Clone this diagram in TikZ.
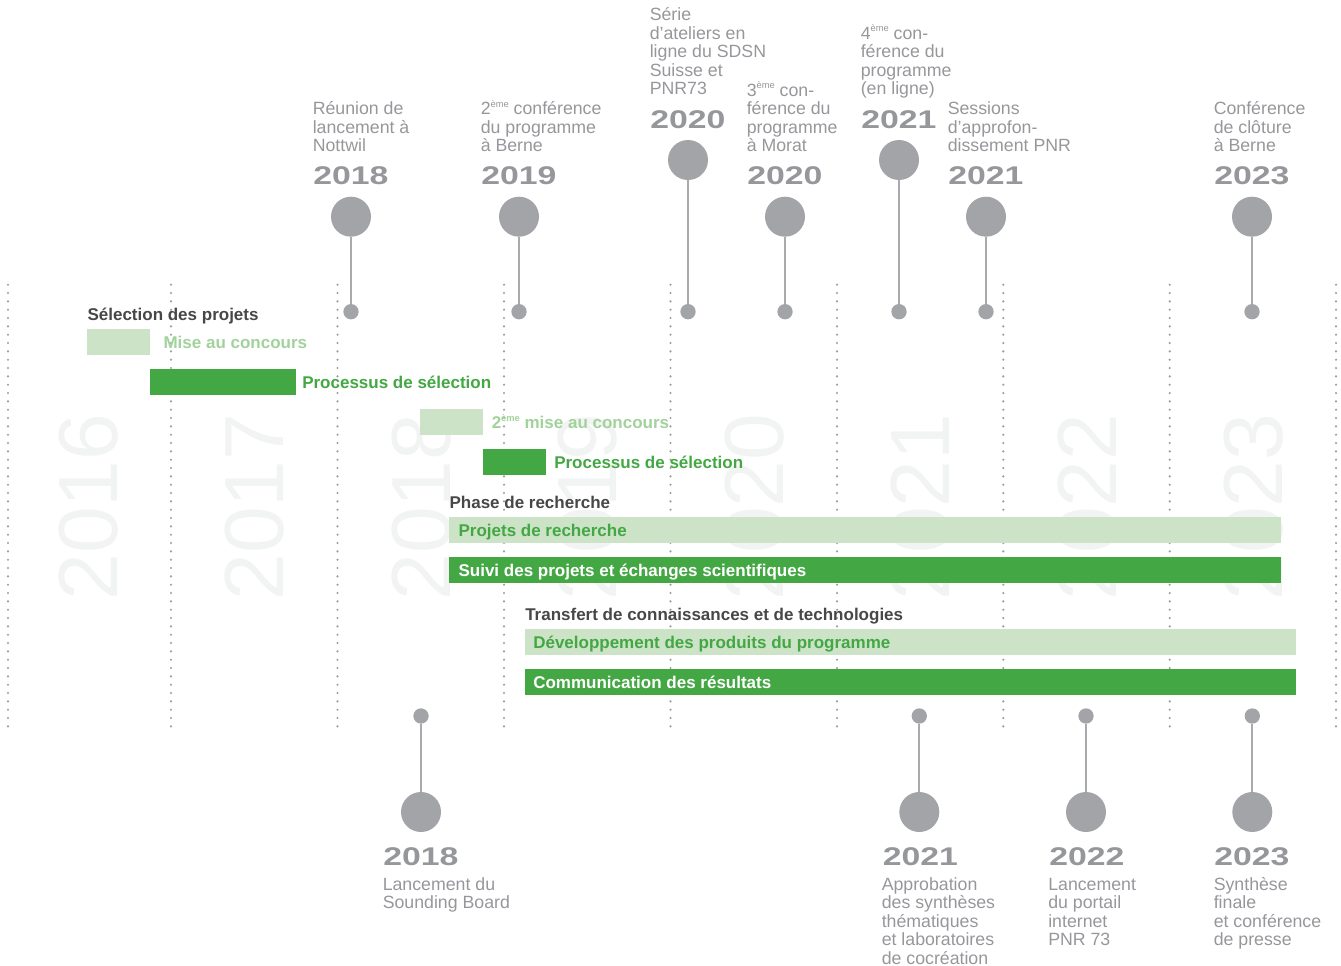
\documentclass[tikz,border=0pt]{standalone}
\usepackage{fontspec}
\setmainfont{Liberation Sans}
\usepackage{graphicx}
\definecolor{dgreen}{HTML}{43A843}
\definecolor{lgreen}{HTML}{CDE3C8}
\definecolor{ltext}{HTML}{A2D29B}
\definecolor{gcirc}{HTML}{A3A4A7}
\definecolor{gstem}{HTML}{A9AAAD}
\definecolor{gtext}{HTML}{96979B}
\definecolor{hdr}{HTML}{474747}
\definecolor{faint}{HTML}{F2F3F3}
\definecolor{dotc}{HTML}{9C9DA0}
\newcommand{\yr}[1]{\scalebox{1.32}[1]{#1}}
\newcommand{\evup}[1]{\parbox[b]{170pt}{\raggedright #1}}
\newcommand{\evdown}[1]{\parbox[t]{170pt}{\raggedright #1}}
\newcommand{\eme}{\raisebox{0.42em}{\fontsize{7}{7}\selectfont ème}}
\tikzset{
 faintyr/.style={text=faint, rotate=90, anchor=base, inner sep=0pt, font=\fontsize{63}{63}\selectfont},
 gridline/.style={draw=dotc, line width=1.8pt, line cap=round, dash pattern=on 0pt off 6.25pt},
 lbar/.style={fill=lgreen},
 dbar/.style={fill=dgreen},
 blabel/.style={anchor=base west, inner sep=0pt, font=\bfseries\fontsize{12.75}{14}\selectfont},
 hdrlabel/.style={blabel, text=hdr},
 bigdot/.style={circle, fill=gcirc, minimum size=30pt, inner sep=0pt},
 smalldot/.style={circle, fill=gcirc, minimum size=11.5pt, inner sep=0pt},
 stem/.style={draw=gstem, line width=1.5pt},
 evyear/.style={anchor=base west, inner sep=0pt, text=gtext, font=\bfseries\fontsize{19.2}{20}\selectfont},
 evtext/.style={anchor=base west, inner sep=0pt, text=gtext, font=\fontsize{13.3}{13.9}\selectfont},
}
\begin{document}
\begin{tikzpicture}[x=0.75pt,y=-0.75pt]
\useasboundingbox (0,0) rectangle (1341,966);
% faint background years
\node[faintyr] (f16) at (117,507) {2016};
\node[faintyr] (f17) at (283.5,507) {2017};
\node[faintyr] (f18) at (450,507) {2018};
\node[faintyr] (f19) at (616.5,507) {2019};
\node[faintyr] (f20) at (783,507) {2020};
\node[faintyr] (f21) at (949.5,507) {2021};
\node[faintyr] (f22) at (1116,507) {2022};
\node[faintyr] (f23) at (1282.5,507) {2023};
% dotted grid lines
\foreach \gx in {8,171,337.5,504,670.5,837,1003.3,1169.7,1336}
  \draw[gridline] (\gx,284.7) -- (\gx,731);
% bars
\fill[lbar] (87,329) rectangle (150,355);
\fill[dbar] (150,369) rectangle (296,395);
\fill[lbar] (420,409) rectangle (483,435);
\fill[dbar] (483,449) rectangle (546,475);
\fill[lbar] (449,517) rectangle (1281,543);
\fill[dbar] (449,557) rectangle (1281,583);
\fill[lbar] (525,629) rectangle (1296,655);
\fill[dbar] (525,669) rectangle (1296,695);
% labels
\node[hdrlabel] (h1) at (87.3,320) {Sélection des projets};
\node[blabel, text=ltext] (l1) at (163.3,348.3) {Mise au concours};
\node[blabel, text=dgreen] (l2) at (302,388.3) {Processus de sélection};
\node[blabel, text=ltext] (l3) at (491.5,428.3) {2\eme{} mise au concours};
\node[blabel, text=dgreen] (l4) at (554,468.3) {Processus de sélection};
\node[hdrlabel] (h2) at (449.3,508.3) {Phase de recherche};
\node[blabel, text=dgreen] (l5) at (458.3,536.3) {Projets de recherche};
\node[blabel, text=white] (l6) at (458.3,576.3) {Suivi des projets et échanges scientifiques};
\node[hdrlabel] (h3) at (525,620.3) {Transfert de connaissances et de technologies};
\node[blabel, text=dgreen] (l7) at (533,648.3) {Développement des produits du programme};
\node[blabel, text=white] (l8) at (533,688.3) {Communication des résultats};
% top events
\node[bigdot] (t1) at (351,216.7) {};
\node[smalldot] (t1d) at (351,311.7) {};
\draw[stem] (t1) -- (t1d);
\node[evyear] (t1y) at (313,185) {\yr{2018}};
\node[evtext] (t1t) at (312.5,151.7) {\evup{Réunion de\\lancement à\\Nottwil}};

\node[bigdot] (t2) at (519,216.7) {};
\node[smalldot] (t2d) at (519,311.7) {};
\draw[stem] (t2) -- (t2d);
\node[evyear] (t2y) at (481,185) {\yr{2019}};
\node[evtext] (t2t) at (480.5,151.7) {\evup{2\eme{} conférence\\du programme\\à Berne}};

\node[bigdot] (t3) at (688,160) {};
\node[smalldot] (t3d) at (688,311.7) {};
\draw[stem] (t3) -- (t3d);
\node[evyear] (t3y) at (650,128.3) {\yr{2020}};
\node[evtext] (t3t) at (649.5,95) {\evup{Série\\d’ateliers en\\ligne du SDSN\\Suisse et\\PNR73}};

\node[bigdot] (t4) at (785,216.7) {};
\node[smalldot] (t4d) at (785,311.7) {};
\draw[stem] (t4) -- (t4d);
\node[evyear] (t4y) at (747,185) {\yr{2020}};
\node[evtext] (t4t) at (746.5,151.7) {\evup{3\eme{} con-\\férence du\\programme\\à Morat}};

\node[bigdot] (t5) at (899,160) {};
\node[smalldot] (t5d) at (899,311.7) {};
\draw[stem] (t5) -- (t5d);
\node[evyear] (t5y) at (861,128.3) {\yr{2021}};
\node[evtext] (t5t) at (860.5,95) {\evup{4\eme{} con-\\férence du\\programme\\(en ligne)}};

\node[bigdot] (t6) at (986,216.7) {};
\node[smalldot] (t6d) at (986,311.7) {};
\draw[stem] (t6) -- (t6d);
\node[evyear] (t6y) at (948,185) {\yr{2021}};
\node[evtext] (t6t) at (947.5,151.7) {\evup{Sessions\\d’approfon-\\dissement PNR}};

\node[bigdot] (t7) at (1252,216.7) {};
\node[smalldot] (t7d) at (1252,311.7) {};
\draw[stem] (t7) -- (t7d);
\node[evyear] (t7y) at (1214,185) {\yr{2023}};
\node[evtext] (t7t) at (1213.5,151.7) {\evup{Conférence\\de clôture\\à Berne}};
% bottom events
\node[smalldot] (b1d) at (421,716) {};
\node[bigdot] (b1) at (421,812) {};
\draw[stem] (b1d) -- (b1);
\node[evyear] (b1y) at (383,865) {\yr{2018}};
\node[evtext] (b1t) at (382.5,890) {\evdown{Lancement du\\Sounding Board}};

\node[smalldot] (b2d) at (919.3,716) {};
\node[bigdot] (b2) at (919.3,812) {};
\draw[stem] (b2d) -- (b2);
\node[evyear] (b2y) at (882.5,865) {\yr{2021}};
\node[evtext] (b2t) at (881.5,890) {\evdown{Approbation\\des synthèses\\thématiques\\et laboratoires\\de cocréation}};

\node[smalldot] (b3d) at (1086,716) {};
\node[bigdot] (b3) at (1086,812) {};
\draw[stem] (b3d) -- (b3);
\node[evyear] (b3y) at (1049,865) {\yr{2022}};
\node[evtext] (b3t) at (1048,890) {\evdown{Lancement\\du portail\\internet\\PNR 73}};

\node[smalldot] (b4d) at (1252.3,716) {};
\node[bigdot] (b4) at (1252.3,812) {};
\draw[stem] (b4d) -- (b4);
\node[evyear] (b4y) at (1214,865) {\yr{2023}};
\node[evtext] (b4t) at (1213.5,890) {\evdown{Synthèse\\finale\\et conférence\\de presse}};
\end{tikzpicture}
\end{document}
